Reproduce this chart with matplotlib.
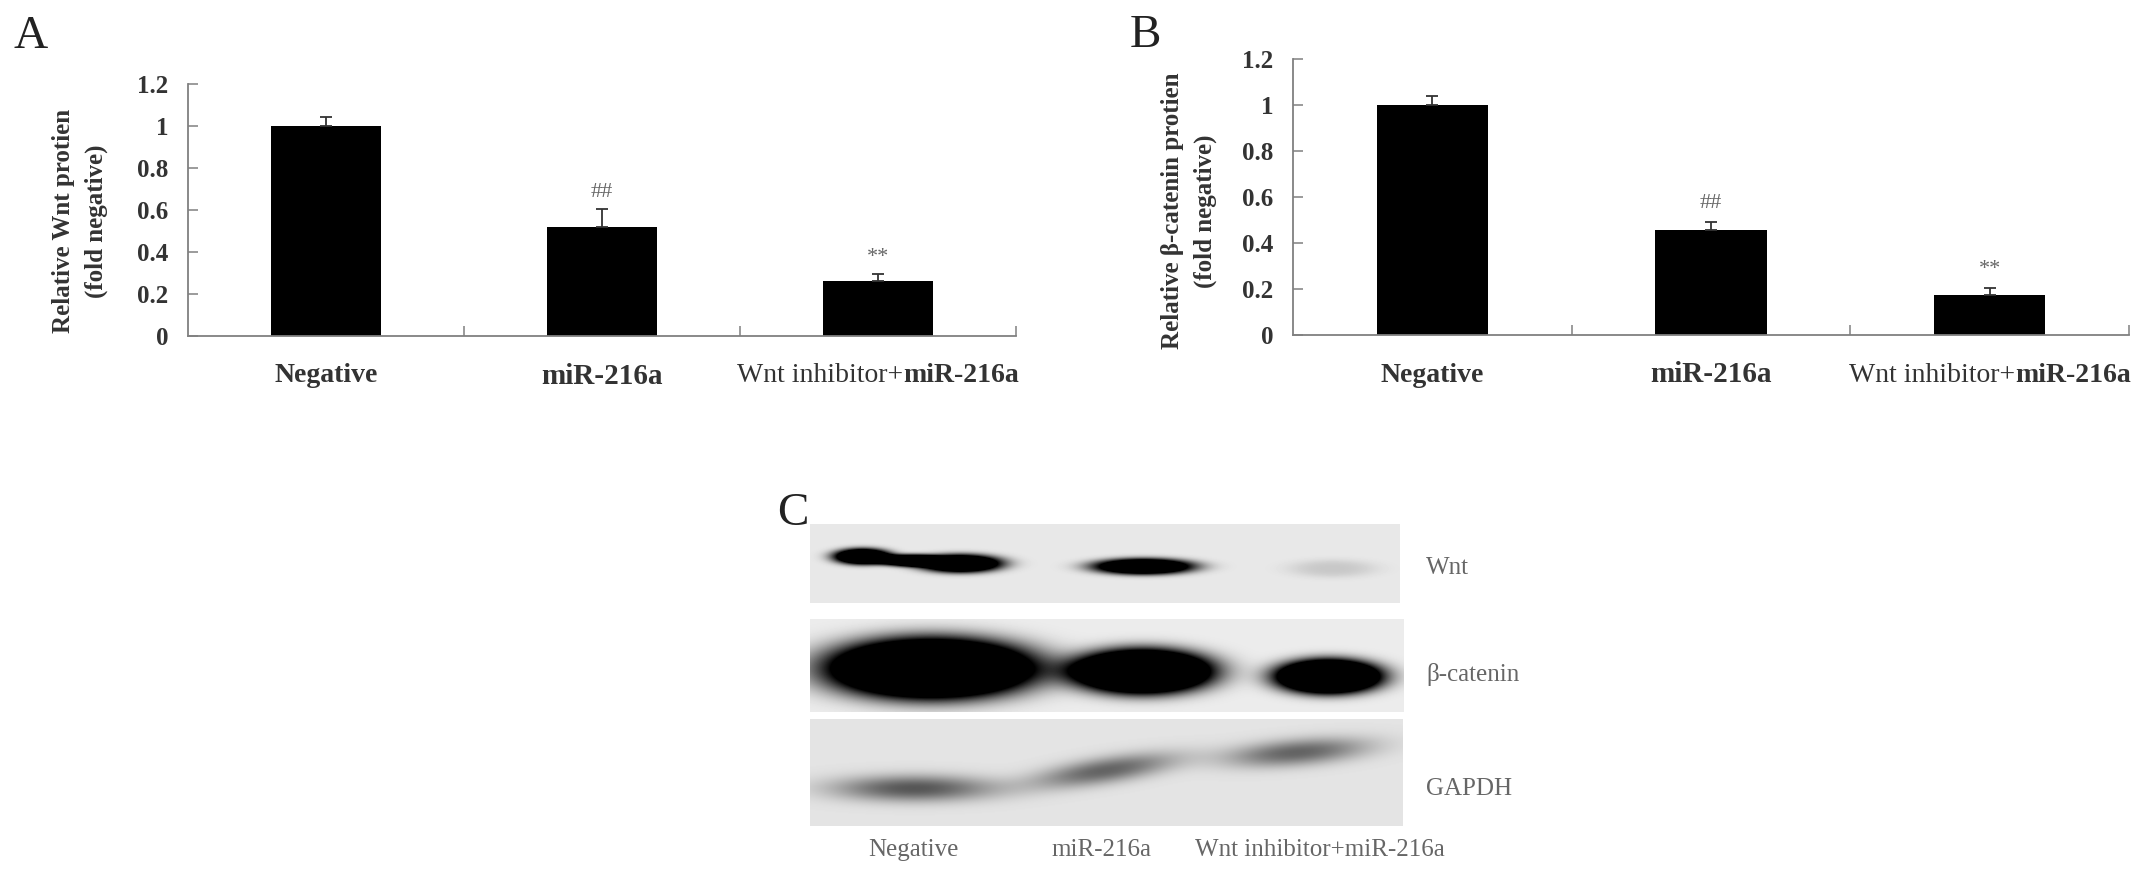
import matplotlib
matplotlib.use('Agg')
import matplotlib.pyplot as plt
import matplotlib.transforms as mtransforms
import numpy as np

plt.rcParams['font.family'] = ['Liberation Serif', 'DejaVu Serif']

groups = ['Negative', 'miR-216a', 'Wnt inhibitor+miR-216a']

# panel A - Wnt
wnt_mean = [1.00, 0.52, 0.262]
wnt_err = [0.043, 0.085, 0.033]
# panel B - beta-catenin
bcat_mean = [1.00, 0.456, 0.174]
bcat_err = [0.04, 0.034, 0.031]
marks = ['', '##', '**']

yticks = [0, 0.2, 0.4, 0.6, 0.8, 1, 1.2]
ytick_labels = ['0', '0.2', '0.4', '0.6', '0.8', '1', '1.2']

# western blot, band darkness per lane (1 = black)
blot_rows = ['Wnt', 'β-catenin', 'GAPDH']
wnt_band = [1.0, 0.95, 0.07]
bcat_band = [1.0, 1.0, 1.0]
gapdh_band = [0.62, 0.56, 0.56]

W, H = 2150, 877
fig = plt.figure(figsize=(W / 100, H / 100), dpi=100)


def px_axes(x0, y0, x1, y1):
    # reference pixel box -> figure fraction
    return fig.add_axes([x0 / W, 1 - y1 / H, (x1 - x0) / W, (y1 - y0) / H])


def bar_panel(ax, means, errs, ylabel, lab_x, lab_y):
    x = np.arange(len(groups))
    ax.bar(x, means, width=0.4, color='black', zorder=2)
    ax.errorbar(x, means, yerr=[np.zeros(len(errs)), errs], fmt='none',
                ecolor='#333333', elinewidth=1.3, capsize=4, capthick=1.3, zorder=3)
    for i in range(len(groups)):
        if marks[i]:
            ax.text(x[i], means[i] + errs[i] + 0.08, marks[i], ha='center', va='center',
                    fontsize=16, color='#666666')
    ax.set_xlim(-0.5, len(groups) - 0.5)
    ax.set_ylim(0, 1.2)
    for s in ['top', 'right']:
        ax.spines[s].set_visible(False)
    for s in ['left', 'bottom']:
        ax.spines[s].set_color('#808080')
        ax.spines[s].set_linewidth(1.3)
    ax.set_xticks(np.arange(len(groups)) + 0.5)
    ax.set_xticklabels([])
    ax.tick_params(axis='x', direction='in', length=7, width=1.1, color='#808080')
    ax.set_yticks(yticks)
    ax.set_yticklabels(ytick_labels, fontsize=18, fontweight='bold', color='#333333')
    ax.tick_params(axis='y', direction='in', length=7, width=1.1, color='#808080', pad=14)

    # category labels under the axis
    trans = mtransforms.blended_transform_factory(ax.transData, ax.transAxes)
    ly = -40 / (ax.get_position().height * H)
    ax.text(0, ly, groups[0], transform=trans, ha='center', va='center',
            fontsize=20, fontweight='bold', color='#333333')
    ax.text(1, ly, groups[1], transform=trans, ha='center', va='center',
            fontsize=21, fontweight='bold', color='#333333')
    head, tail = groups[2].split('+')
    t1 = ax.text(2, ly, head + '+', transform=trans, ha='left', va='center',
                 fontsize=20, color='#333333')
    t2 = ax.annotate(tail, xy=(1, 0), xycoords=t1, ha='left', va='bottom',
                     fontsize=20, fontweight='bold', color='#333333')
    r = fig.canvas.get_renderer()
    tot = t1.get_window_extent(r).width + t2.get_window_extent(r).width
    t1.set_transform(trans + mtransforms.ScaledTranslation(-tot / 2 / fig.dpi, 0, fig.dpi_scale_trans))

    ax.text(lab_x, lab_y, ylabel, transform=ax.transAxes, rotation=90, ha='center', va='center',
            multialignment='center', fontsize=18, fontweight='bold', color='#333333', linespacing=1.5)


axA = px_axes(188, 84, 1016, 336)
bar_panel(axA, wnt_mean, wnt_err, 'Relative Wnt protien\n(fold negative)', -0.1304, 0.456)
axB = px_axes(1293, 59, 2129, 335)
bar_panel(axB, bcat_mean, bcat_err, 'Relative β-catenin protien\n(fold negative)', -0.1244, 0.449)

fig.text(14 / W, 1 - 48 / H, 'A', fontsize=34, color='#222222', va='baseline')
fig.text(1130 / W, 1 - 47 / H, 'B', fontsize=34, color='#222222', va='baseline')
fig.text(777 / W, 1 - 525 / H, 'C', fontsize=34, color='#222222', va='baseline')


# ---- panel C: blot strips ----
def blot_strip(w, h, bg, bands, gain, p):
    yy, xx = np.mgrid[0:h, 0:w].astype(float)
    tot = np.zeros((h, w))
    for cx, cy, hw, hh, tilt, dark in bands:
        yc = cy + tilt * (xx - cx)
        r2 = ((xx - cx) / hw) ** 2 + ((yy - yc) / hh) ** 2
        tot += gain * dark * np.exp(-r2 ** (p / 2))
    return bg * (1 - np.clip(tot, 0, 1))


axC = px_axes(810, 524, 1404, 826)
axC.set_xlim(0, 594)
axC.set_ylim(302, 0)
axC.axis('off')

strip1 = blot_strip(590, 79, 232,
                    [(52, 32, 29, 8, 0.0, wnt_band[0]),
                     (150, 39, 42, 9, 0.0, wnt_band[0]),
                     (100, 36, 32, 6, 0.0, wnt_band[0] * 0.9),
                     (333, 42, 51, 8, 0.0, wnt_band[1]),
                     (522, 44, 44, 9, 0.0, wnt_band[2])], 2.0, 3)
strip2 = blot_strip(594, 93, 236,
                    [(121, 49, 104, 30, 0.0, bcat_band[0]),
                     (332, 52, 70, 22, 0.0, bcat_band[1]),
                     (518, 57, 53, 17, 0.0, bcat_band[2])], 2.5, 3)
strip3 = blot_strip(593, 107, 228,
                    [(104, 69, 80, 13, 0.0, gapdh_band[0]),
                     (295, 51, 70, 13, -0.15, gapdh_band[1]),
                     (487, 33, 70, 13, -0.08, gapdh_band[2])], 1.0, 2.2)

for img, (y0, y1), xw in [(strip1, (0, 79), 590), (strip2, (95, 188), 594), (strip3, (195, 302), 593)]:
    axC.imshow(img, cmap='gray', vmin=0, vmax=255, extent=(0, xw, y1, y0),
               interpolation='bilinear', aspect='auto')

for name, ypx in zip(blot_rows, [568, 674, 789]):
    fig.text(1426 / W, 1 - ypx / H, name, fontsize=18, color='#666666', ha='left', va='center')
for name, xpx in zip(groups, [913, 1101, 1320]):
    fig.text(xpx / W, 1 - 850 / H, name, fontsize=18, color='#666666', ha='center', va='center')

plt.savefig('out.png', dpi=100)
